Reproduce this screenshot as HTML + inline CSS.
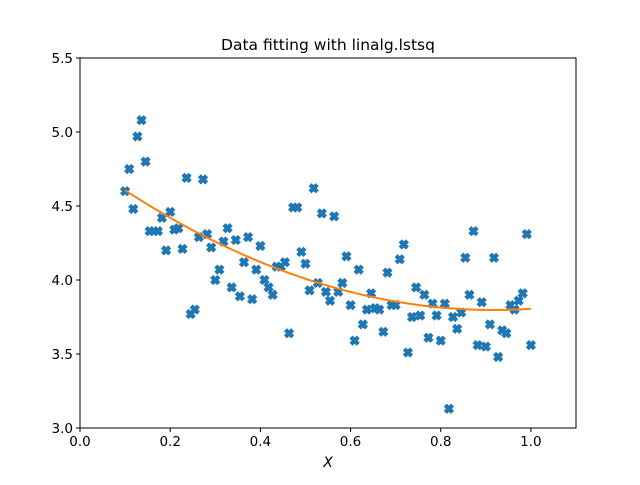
<!DOCTYPE html>
<html><head><meta charset="utf-8"><style>
body{margin:0;background:#fff;}
svg text{font-family:"DejaVu Sans","Liberation Sans",sans-serif;}
</style></head><body>
<svg id="chart" width="640" height="480" xmlns="http://www.w3.org/2000/svg">
<rect width="640" height="480" fill="#fff"/>
<text x="328" y="50" font-size="15.5" text-anchor="middle">Data fitting with linalg.lstsq</text>
<g id="marks"></g>
<rect x="80" y="58" width="496" height="370" fill="none" stroke="#000" stroke-width="1"/>
<g id="axes"></g>
<text x="328" y="467" font-size="14" font-style="italic" text-anchor="middle">X</text>
</svg>
<script>
const xValues = [];
for (let i = 0; i < 100; i++) xValues.push(0.1 + i * 0.9 / 99);
const yValues = [4.60,4.75,4.48,4.97,5.08,4.80,4.33,4.33,4.33,4.42,4.20,4.46,4.34,4.35,4.21,4.69,3.77,3.80,4.29,4.68,
4.31,4.22,4.00,4.07,4.26,4.35,3.95,4.27,3.89,4.12,4.29,3.87,4.07,4.23,4.00,3.95,3.90,4.09,4.09,4.12,
3.64,4.49,4.49,4.19,4.11,3.93,4.62,3.98,4.45,3.92,3.86,4.43,3.92,3.98,4.16,3.83,3.59,4.07,3.70,3.80,
3.91,3.81,3.80,3.65,4.05,3.83,3.83,4.14,4.24,3.51,3.75,3.95,3.76,3.90,3.61,3.84,3.76,3.59,3.84,3.13,
3.75,3.67,3.78,4.15,3.90,4.33,3.56,3.85,3.55,3.70,4.15,3.48,3.66,3.64,3.83,3.80,3.86,3.91,4.31,3.56];
const xTicks = [0.0,0.2,0.4,0.6,0.8,1.0];
const xTickLabels = ["0.0","0.2","0.4","0.6","0.8","1.0"];
const yTicks = [3.0,3.5,4.0,4.5,5.0,5.5];
const yTickLabels = ["3.0","3.5","4.0","4.5","5.0","5.5"];

const NS="http://www.w3.org/2000/svg";
const X0=80,X1=576,Y0=428,Y1=58;
const sx=v=>X0+(v-0)/(1.1-0)*(X1-X0);
const sy=v=>Y0-(v-3.0)/(5.5-3.0)*(Y0-Y1);
function mk(t,a){const e=document.createElementNS(NS,t);for(const k in a)e.setAttribute(k,a[k]);return e;}
const axes=document.getElementById('axes'), marks=document.getElementById('marks');

xTicks.forEach((t,i)=>{
  const l=mk('line',{x1:sx(t),x2:sx(t),y1:Y0,y2:Y0+4,stroke:'#000'});
  
  
  axes.appendChild(l);
  const tx=mk('text',{x:sx(t),y:Y0+18,'font-size':'13.5','text-anchor':'middle'});
  tx.textContent=xTickLabels[i];
  
  
  axes.appendChild(tx);
});
yTicks.forEach((t,i)=>{
  const l=mk('line',{x1:X0-4,x2:X0,y1:sy(t),y2:sy(t),stroke:'#000'});
  
  
  axes.appendChild(l);
  const tx=mk('text',{x:X0-7,y:sy(t)+5,'font-size':'13.5','text-anchor':'end'});
  tx.textContent=yTickLabels[i];
  
  
  axes.appendChild(tx);
});

const s=4.6, w=0.36;
const base=[[-w,-1],[w,-1],[w,-w],[1,-w],[1,w],[w,w],[w,1],[-w,1],[-w,w],[-1,w],[-1,-w],[-w,-w]];
const c=Math.SQRT1_2;
const shape=base.map(([a,b])=>[(a-b)*c*s,(a+b)*c*s]);
xValues.forEach((xv,i)=>{
  const px=sx(xv),py=sy(yValues[i]);
  const p=mk('polygon',{points:shape.map(([a,b])=>(px+a).toFixed(2)+','+(py+b).toFixed(2)).join(' '),fill:'#1f77b4',stroke:'#1f77b4','stroke-width':'1'});
  
  
  marks.appendChild(p);
});

let S=[0,0,0,0,0],T=[0,0,0];
xValues.forEach((x,i)=>{const y=yValues[i];for(let k=0;k<5;k++)S[k]+=Math.pow(x,k);for(let k=0;k<3;k++)T[k]+=y*Math.pow(x,k);});
const A=[[S[0],S[1],S[2],T[0]],[S[1],S[2],S[3],T[1]],[S[2],S[3],S[4],T[2]]];
for(let i=0;i<3;i++){for(let j=i+1;j<3;j++){const f=A[j][i]/A[i][i];for(let k=i;k<4;k++)A[j][k]-=f*A[i][k];}}
const co=[0,0,0];
for(let i=2;i>=0;i--){let v=A[i][3];for(let k=i+1;k<3;k++)v-=A[i][k]*co[k];co[i]=v/A[i][i];}
const d=xValues.map((x,i)=>(i?'L':'M')+sx(x).toFixed(2)+','+sy(co[0]+co[1]*x+co[2]*x*x).toFixed(2)).join(' ');
const fl=mk('path',{d:d,fill:'none',stroke:'#ff7f0e','stroke-width':'2'});


marks.appendChild(fl);
</script>
</body></html>
